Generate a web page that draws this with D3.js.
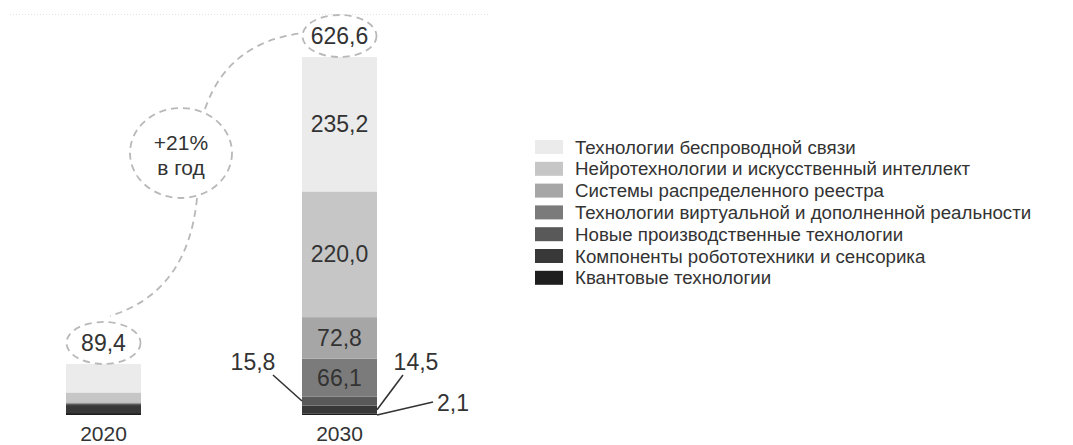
<!DOCTYPE html>
<html>
<head>
<meta charset="utf-8">
<script src="https://cdn.jsdelivr.net/npm/d3@7"></script>
<style>
  body { margin: 0; background: #fff; }
  text { font-family: "Liberation Sans", Arial, sans-serif; fill: #333; }
</style>
</head>
<body>
<script>
// data
const years = ["2020", "2030"];
const categories = [
  "Технологии беспроводной связи",
  "Нейротехнологии и искусственный интеллект",
  "Системы распределенного реестра",
  "Технологии виртуальной и дополненной реальности",
  "Новые производственные технологии",
  "Компоненты робототехники и сенсорика",
  "Квантовые технологии"
];
// legend order (top to bottom)
const values2020 = [50.0, 17.0, 1.0, 1.5, 2.5, 14.0, 3.4];
const values2030 = [235.2, 220.0, 72.8, 66.1, 15.8, 14.5, 2.1];
const totals = [89.4, 626.6];
const growthLabel = ["+21%", "в год"];
const colors = ["#ebebeb", "#c6c6c6", "#a6a6a6", "#7b7b7b", "#595959", "#383838", "#1e1e1e"];

const w = 1073;
const h = 445;
const barW = 75;

const fmt = (v) => d3.format(".1f")(v).replace(".", ",");

const rows = years.map((y, i) => {
  const r = { year: y };
  const vals = i === 0 ? values2020 : values2030;
  categories.forEach((c, j) => { r[c] = vals[j]; });
  return r;
});

const stack = d3.stack().keys(categories.slice().reverse());
const series = stack(rows);

const xScale = d3.scalePoint().domain(years).range([103.5, 339.5]);
const yScale = d3.scaleLinear().domain([0, d3.max(totals)]).range([415, 57]);
const color = d3.scaleOrdinal().domain(categories).range(colors);

const svg = d3.select("body")
  .append("svg")
  .attr("width", w)
  .attr("height", h);

// faint dotted top rule
svg.append("line")
  .attr("x1", 10).attr("x2", 488)
  .attr("y1", 14.5).attr("y2", 14.5)
  .attr("stroke", "#e3e3e3")
  .attr("stroke-dasharray", "1,2");

// bars
svg.selectAll("g.layer")
  .data(series)
  .enter()
  .append("g")
  .attr("class", "layer")
  .attr("fill", (d) => color(d.key))
  .selectAll("rect")
  .data((d) => d)
  .enter()
  .append("rect")
  .attr("x", (d) => xScale(d.data.year) - barW / 2)
  .attr("y", (d) => yScale(d[1]))
  .attr("width", barW)
  .attr("height", (d) => yScale(d[0]) - yScale(d[1]));

// year labels
svg.selectAll("text.year")
  .data(years)
  .enter()
  .append("text")
  .attr("class", "year")
  .attr("x", (d) => xScale(d))
  .attr("y", 441)
  .attr("text-anchor", "middle")
  .attr("font-size", 21)
  .text((d) => d);

// 2030 segment labels
const s2030 = series.map((s) => ({ key: s.key, lo: s[1][0], hi: s[1][1] }));
const cx = xScale("2030");
const inside = [categories[0], categories[1], categories[2], categories[3]];
s2030.filter((s) => inside.includes(s.key)).forEach((s) => {
  svg.append("text")
    .attr("x", cx)
    .attr("y", (yScale(s.lo) + yScale(s.hi)) / 2 + 8)
    .attr("text-anchor", "middle")
    .attr("font-size", 23)
    .text(fmt(s.hi - s.lo));
});

// outside labels with leader lines
const outside = [
  { key: categories[4], tx: 253, ty: 370, lx1: 273, ly1: 375, side: -1 },
  { key: categories[5], tx: 416, ty: 370, lx1: 403, ly1: 375, side: 1 },
  { key: categories[6], tx: 453, ty: 411, lx1: 433, ly1: 402, side: 1 }
];
outside.forEach((o) => {
  const s = s2030.find((d) => d.key === o.key);
  const ym = (yScale(s.lo) + yScale(s.hi)) / 2;
  const xe = cx + o.side * barW / 2;
  svg.append("line")
    .attr("x1", o.lx1).attr("y1", o.ly1)
    .attr("x2", xe).attr("y2", o.key === categories[6] ? yScale(s.lo) : ym)
    .attr("stroke", "#333")
    .attr("stroke-width", 1.6);
  svg.append("text")
    .attr("x", o.tx)
    .attr("y", o.ty)
    .attr("text-anchor", "middle")
    .attr("font-size", 23)
    .text(fmt(s.hi - s.lo));
});

// totals in dashed ellipses
const dash = "#b8b8b8";
totals.forEach((t, i) => {
  const x = xScale(years[i]);
  const yTop = yScale(t);
  svg.append("ellipse")
    .attr("cx", x).attr("cy", yTop - 21)
    .attr("rx", 37).attr("ry", 21)
    .attr("fill", "none")
    .attr("stroke", dash)
    .attr("stroke-width", 1.8)
    .attr("stroke-dasharray", "7,5");
  svg.append("text")
    .attr("x", x)
    .attr("y", yTop - 13)
    .attr("text-anchor", "middle")
    .attr("font-size", 23)
    .text(fmt(t));
});

// growth bubble
svg.append("ellipse")
  .attr("cx", 181).attr("cy", 153)
  .attr("rx", 51).attr("ry", 45)
  .attr("fill", "none")
  .attr("stroke", dash)
  .attr("stroke-width", 1.8)
  .attr("stroke-dasharray", "7,5");
svg.selectAll("text.growth")
  .data(growthLabel)
  .enter()
  .append("text")
  .attr("class", "growth")
  .attr("x", 181)
  .attr("y", (d, i) => 150 + i * 25)
  .attr("text-anchor", "middle")
  .attr("font-size", 21)
  .text((d) => d);

// connecting dashed curves
svg.append("path")
  .attr("d", "M205,109 Q228,42 303,33")
  .attr("fill", "none")
  .attr("stroke", dash)
  .attr("stroke-width", 1.8)
  .attr("stroke-dasharray", "7,5");
svg.append("path")
  .attr("d", "M197,198 Q188,292 110,316")
  .attr("fill", "none")
  .attr("stroke", dash)
  .attr("stroke-width", 1.8)
  .attr("stroke-dasharray", "7,5");

// legend
const legend = svg.append("g").attr("transform", "translate(535, 147)");
const item = legend.selectAll("g")
  .data(categories)
  .enter()
  .append("g")
  .attr("transform", (d, i) => `translate(0, ${i * 21.8})`);
item.append("rect")
  .attr("x", 0).attr("y", -7)
  .attr("width", 28).attr("height", 14)
  .attr("fill", (d) => color(d));
item.append("text")
  .attr("x", 40)
  .attr("y", 6.5)
  .attr("font-size", 18.7)
  .text((d) => d);
</script>
</body>
</html>
